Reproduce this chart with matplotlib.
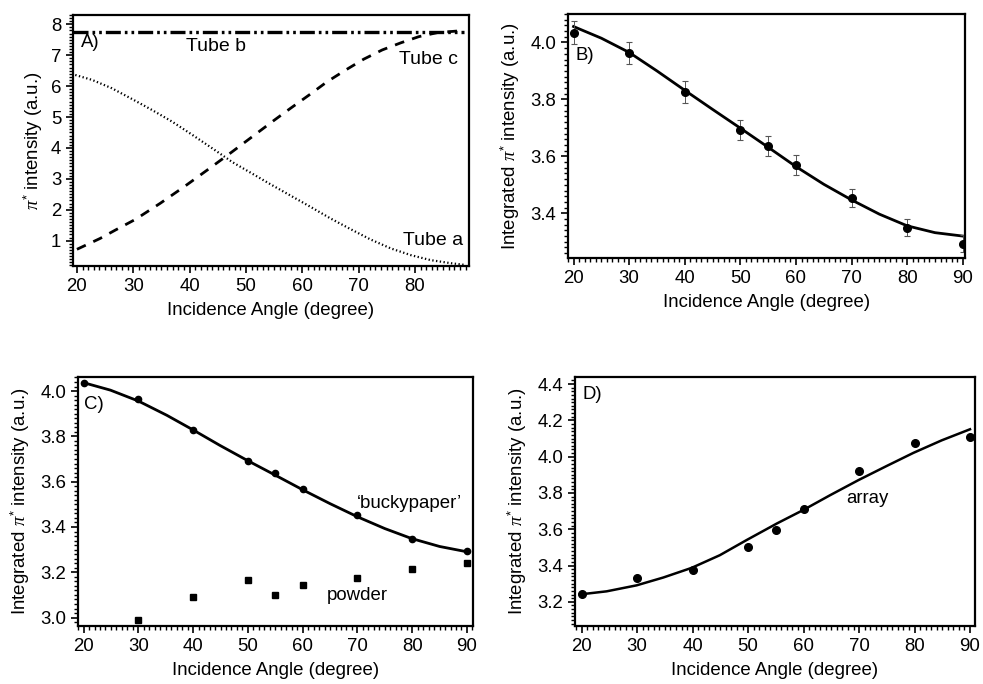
import matplotlib
matplotlib.use("Agg")
import matplotlib.pyplot as plt
from matplotlib.ticker import MultipleLocator, AutoMinorLocator, FormatStrFormatter

plt.rcParams['font.family'] = ['Liberation Sans', 'DejaVu Sans']
plt.rcParams['mathtext.fontset'] = 'custom'
plt.rcParams['mathtext.it'] = 'Liberation Serif:italic'
plt.rcParams['mathtext.rm'] = 'Liberation Sans'

# ---------------- Panel A data ----------------
tube_a_x = [19.7, 22.7, 26.2, 29.8, 33.3, 36.9, 40.5, 44.0, 47.6, 51.1, 54.3,
            57.9, 61.5, 65.0, 68.6, 72.1, 75.7, 79.3, 82.8, 86.4, 88.7]
tube_a_y = [6.36, 6.20, 5.93, 5.58, 5.23, 4.85, 4.42, 3.99, 3.54, 3.17, 2.83,
            2.46, 2.09, 1.72, 1.37, 1.04, 0.75, 0.53, 0.37, 0.27, 0.22]
tube_c_x = [20.0, 24.1, 26.8, 30.4, 34.8, 39.0, 43.1, 47.0, 51.1, 54.9, 57.9,
            61.2, 64.4, 67.7, 70.9, 74.2, 77.5, 80.7, 84.0, 88.1]
tube_c_y = [0.72, 1.07, 1.34, 1.69, 2.21, 2.74, 3.28, 3.80, 4.36, 4.88, 5.28,
            5.71, 6.14, 6.52, 6.87, 7.17, 7.40, 7.60, 7.73, 7.79]
tube_b_x = [19.3, 88.7]
tube_b_y = [7.76, 7.76]

# ---------------- Panel B / C ('buckypaper') data ----------------
angles = [20, 30, 40, 50, 55, 60, 70, 80, 90]
bucky_y = [4.035, 3.963, 3.826, 3.693, 3.638, 3.569, 3.455, 3.349, 3.293]
bucky_err = [0.04, 0.038, 0.038, 0.035, 0.035, 0.035, 0.032, 0.03, 0.03]
fit_b_x = [20, 25, 30, 35, 40, 45, 50, 55, 60, 65, 70, 75, 80, 85, 90]
fit_b_y = [4.056, 4.015, 3.965, 3.900, 3.832, 3.765, 3.699, 3.632, 3.564,
           3.502, 3.447, 3.397, 3.356, 3.332, 3.320]
fit_c_x = [20, 24.9, 30.0, 35.2, 40.1, 44.9, 50.1, 54.9, 60.1, 65.0, 70.1, 75.0, 79.9, 85.0, 89.9]
fit_c_y = [4.037, 4.004, 3.956, 3.893, 3.827, 3.760, 3.691, 3.630, 3.563,
           3.503, 3.444, 3.393, 3.349, 3.314, 3.291]

# ---------------- Panel C powder ----------------
powder_x = [30, 40, 50, 55, 60, 70, 80, 90]
powder_y = [2.990, 3.091, 3.168, 3.101, 3.143, 3.176, 3.215, 3.241]

# ---------------- Panel D array ----------------
array_y = [3.246, 3.329, 3.375, 3.504, 3.596, 3.712, 3.920, 4.073, 4.110]
fit_d_x = [19.7, 24.5, 29.9, 34.7, 39.8, 44.9, 49.7, 55.2, 60.0, 64.8, 69.9, 75.0, 79.8, 84.9, 90.0]
fit_d_y = [3.241, 3.258, 3.291, 3.334, 3.387, 3.457, 3.540, 3.632, 3.707,
           3.788, 3.871, 3.949, 4.021, 4.090, 4.151]

FS = 13.4
W, H = 983, 684
fig = plt.figure(figsize=(W / 100, H / 100), dpi=100)


def make_ax(l, r, t, b):
    return fig.add_axes([l / W, 1 - b / H, (r - l) / W, (b - t) / H])


def style(ax):
    for s in ax.spines.values():
        s.set_linewidth(1.6)
    ax.tick_params(which='both', direction='out', top=False, right=False,
                   labelsize=FS, width=1.2, colors='black')
    ax.tick_params(which='major', length=5)
    ax.tick_params(which='minor', length=3, width=1.0)
    ax.xaxis.set_minor_locator(AutoMinorLocator(10))
    ax.yaxis.set_minor_locator(AutoMinorLocator(10))
    ax.set_xlabel('Incidence Angle (degree)', fontsize=FS, labelpad=5)


ylabel_int = r'Integrated $\pi^{*}$ intensity (a.u.)'

# ---------- A ----------
axA = make_ax(73, 469, 15, 266)
axA.plot(tube_a_x, tube_a_y, color='black', lw=1.6, linestyle=(0, (0.6, 1.1)))
axA.plot(tube_c_x, tube_c_y, color='black', lw=2.0, linestyle=(0, (3.5, 3)))
axA.plot(tube_b_x, tube_b_y, color='black', lw=2.4,
         linestyle=(0, (4.5, 1.2, 0.8, 1.2, 0.8, 1.2)))
axA.set_xlim(19.3, 89.6)
axA.set_ylim(0.18, 8.3)
axA.xaxis.set_major_locator(MultipleLocator(10))
axA.yaxis.set_major_locator(MultipleLocator(1))
style(axA)
axA.set_ylabel(r'$\pi^{*}$ intensity (a.u.)', fontsize=FS, labelpad=4)
axA.text(20.7, 7.4, 'A)', fontsize=FS, va='center', ha='left')
axA.text(44.6, 7.27, 'Tube b', fontsize=14, va='center', ha='center')
axA.text(82.4, 6.87, 'Tube c', fontsize=14, va='center', ha='center')
axA.text(83.3, 1.02, 'Tube a', fontsize=14, va='center', ha='center')

# ---------- B ----------
axB = make_ax(568, 965, 14, 258)
axB.plot(fit_b_x, fit_b_y, color='black', lw=2.0)
axB.errorbar(angles, bucky_y, yerr=bucky_err, fmt='o', color='black',
             ms=5.5, elinewidth=0.7, capsize=2, capthick=0.8,
             ecolor='#555555')
axB.set_xlim(19.0, 90.4)
axB.set_ylim(3.243, 4.10)
axB.xaxis.set_major_locator(MultipleLocator(10))
axB.yaxis.set_major_locator(MultipleLocator(0.2))
axB.yaxis.set_major_formatter(FormatStrFormatter('%.1f'))
style(axB)
axB.set_ylabel(ylabel_int, fontsize=FS, labelpad=6)
axB.text(20.3, 3.954, 'B)', fontsize=FS, va='center', ha='left')

# ---------- C ----------
axC = make_ax(78, 473, 377, 626)
axC.plot(fit_c_x, fit_c_y, color='black', lw=2.0)
axC.plot(angles, bucky_y, 'o', color='black', ms=4.5)
axC.plot(powder_x, powder_y, 's', color='black', ms=5)
axC.set_xlim(18.98, 91.1)
axC.set_ylim(2.963, 4.062)
axC.xaxis.set_major_locator(MultipleLocator(10))
axC.yaxis.set_major_locator(MultipleLocator(0.2))
axC.yaxis.set_major_formatter(FormatStrFormatter('%.1f'))
style(axC)
axC.set_ylabel(ylabel_int, fontsize=FS, labelpad=6)
axC.text(20.0, 3.941, 'C)', fontsize=FS, va='center', ha='left')
axC.text(79.5, 3.503, '\u2018buckypaper\u2019', fontsize=FS, va='center', ha='center')
axC.text(70.0, 3.098, 'powder', fontsize=FS, va='center', ha='center')

# ---------- D ----------
axD = make_ax(575, 975, 377, 626)
axD.plot(fit_d_x, fit_d_y, color='black', lw=1.8)
axD.plot(angles, array_y, 'o', color='black', ms=5.5)
axD.set_xlim(18.8, 90.9)
axD.set_ylim(3.067, 4.439)
axD.xaxis.set_major_locator(MultipleLocator(10))
axD.yaxis.set_major_locator(MultipleLocator(0.2))
axD.yaxis.set_major_formatter(FormatStrFormatter('%.1f'))
style(axD)
axD.set_ylabel(ylabel_int, fontsize=FS, labelpad=6)
axD.text(20.2, 4.341, 'D)', fontsize=FS, va='center', ha='left')
axD.text(71.6, 3.77, 'array', fontsize=FS, va='center', ha='center')

fig.savefig('out.png', dpi=100)
